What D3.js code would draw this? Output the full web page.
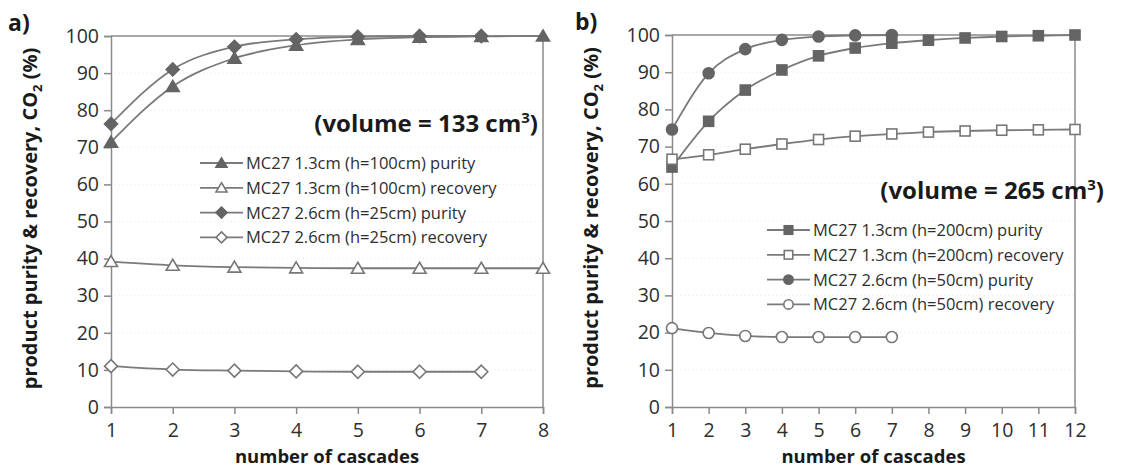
<!DOCTYPE html>
<html><head><meta charset="utf-8">
<script src="https://cdn.jsdelivr.net/npm/d3@7/dist/d3.min.js"></script>
<style>
body{margin:0;background:#fff;}
svg{display:block;font-family:"Open Sans",sans-serif;}
</style></head><body>
<svg id="chart" width="1129" height="470"></svg>
<script>
// ---------- DATA ----------
const yTicks = [0,10,20,30,40,50,60,70,80,90,100];
const cascadesA = [1,2,3,4,5,6,7,8];
const cascadesB = [1,2,3,4,5,6,7,8,9,10,11,12];

const a_p13_purity   = [71.4, 86.4, 94.0, 97.5, 99.1, 99.7, 99.9, 100];
const a_p13_recovery = [39.2, 38.2, 37.7, 37.5, 37.4, 37.4, 37.4, 37.4];
const a_p26_purity   = [76.3, 91.0, 97.1, 99.1, 99.8, 100, 100];
const a_p26_recovery = [11.0, 10.1, 9.8, 9.6, 9.5, 9.5, 9.5];

const b_p13_purity   = [64.5, 76.8, 85.2, 90.6, 94.4, 96.5, 97.8, 98.6, 99.2, 99.6, 99.8, 100];
const b_p13_recovery = [66.6, 67.8, 69.3, 70.7, 71.9, 72.8, 73.4, 73.9, 74.2, 74.4, 74.5, 74.6];
const b_p26_purity   = [74.6, 89.7, 96.2, 98.7, 99.6, 99.9, 100];
const b_p26_recovery = [21.2, 19.9, 19.1, 18.8, 18.8, 18.8, 18.8];

const labelsA = ["MC27 1.3cm (h=100cm) purity","MC27 1.3cm (h=100cm) recovery","MC27 2.6cm (h=25cm) purity","MC27 2.6cm (h=25cm) recovery"];
const labelsB = ["MC27 1.3cm (h=200cm) purity","MC27 1.3cm (h=200cm) recovery","MC27 2.6cm (h=50cm) purity","MC27 2.6cm (h=50cm) recovery"];

// ---------- DRAW ----------
const svg = d3.select("#chart");
const axisCol = "#8a8a8a", lineCol = "#7a7a7a", fillCol = "#646464", textCol = "#2e2e2e";

function marker(g, type, x, y, filled, s){
  s = s || 1;
  const fill = filled ? fillCol : "#fff";
  const stroke = filled ? fillCol : "#777";
  let el;
  if(type==="triangle"){
    el = g.append("path").attr("d", `M${x},${y-6*s} L${x+6.5*s},${y+5*s} L${x-6.5*s},${y+5*s} Z`);
  } else if(type==="diamond"){
    el = g.append("path").attr("d", `M${x},${y-6.5*s} L${x+6.5*s},${y} L${x},${y+6.5*s} L${x-6.5*s},${y} Z`);
  } else if(type==="square"){
    el = g.append("rect").attr("x", x-5*s).attr("y", y-5*s).attr("width",10*s).attr("height",10*s);
  } else {
    el = g.append("circle").attr("cx", x).attr("cy", y).attr("r", 5.5*s);
  }
  el.attr("fill", fill).attr("stroke", stroke).attr("stroke-width", 1.6);
}

function panel(opt){
  const {left,right,top,bottom,xs,series,labels,tag,tagX,tagY,vol,volX,volY,legX,legY,ylabX} = opt;
  const g = svg.append("g");
  const x = d3.scaleLinear().domain([xs[0], xs[xs.length-1]]).range([left,right]);
  const y = d3.scaleLinear().domain([0,100]).range([bottom,top]);

  // faint dotted gridlines
  g.append("g").selectAll("line").data(yTicks.slice(1,-1)).join("line")
    .attr("x1",left).attr("x2",right).attr("y1",d=>y(d)).attr("y2",d=>y(d))
    .attr("stroke","#e8e8e8").attr("stroke-dasharray","1,3");

  // frame top/right
  g.append("line").attr("x1",left).attr("x2",right).attr("y1",top).attr("y2",top).attr("stroke",axisCol).attr("stroke-width",1.5);
  g.append("line").attr("x1",right).attr("x2",right).attr("y1",top).attr("y2",bottom).attr("stroke",axisCol).attr("stroke-width",1.5);

  // y axis
  const ya = g.append("g").attr("transform",`translate(${left},0)`)
    .call(d3.axisLeft(y).tickValues(yTicks).tickSize(7).tickPadding(5));
  // x axis
  const xa = g.append("g").attr("transform",`translate(0,${bottom})`)
    .call(d3.axisBottom(x).tickValues(xs).tickFormat(d3.format("d")).tickSize(7).tickPadding(9));
  [ya,xa].forEach(a=>{
    a.select(".domain").attr("stroke",axisCol).attr("stroke-width",1.5);
    a.selectAll(".tick line").attr("stroke",axisCol).attr("stroke-width",1.5);
    a.selectAll("text").attr("fill",textCol).attr("font-size",19.5).attr("font-family","Open Sans");
  });
  // series
  const line = d3.line().x((d,i)=>x(xs[i])).y(d=>y(d)).curve(d3.curveMonotoneX);
  series.forEach(s=>{
    g.append("path").attr("d", line(s.values)).attr("fill","none").attr("stroke",lineCol).attr("stroke-width",1.8);
  });
  series.forEach(s=>{
    s.values.forEach((v,i)=> marker(g, s.type, x(xs[i]), y(v), s.filled));
  });

  // legend
  series.forEach((s,i)=>{
    const cy = legY + i*24.8;
    g.append("line").attr("x1",legX).attr("x2",legX+43).attr("y1",cy).attr("y2",cy).attr("stroke",lineCol).attr("stroke-width",1.8);
    marker(g, s.type, legX+21.5, cy, s.filled, 0.85);
    g.append("text").attr("x",legX+46).attr("y",cy+6).attr("font-size",16.5).attr("fill",textCol).text(labels[i]);
  });

  // volume annotation
  const vt = g.append("text").attr("x",volX).attr("y",volY).attr("text-anchor","end")
    .attr("font-size",24).attr("font-weight","bold").attr("fill","#1a1a1a");
  vt.append("tspan").text(vol[0]);
  vt.append("tspan").attr("font-size",15).attr("dy",-9).text(vol[1]);
  vt.append("tspan").attr("dy",9).text(vol[2]);

  // panel tag
  g.append("text").attr("x",tagX).attr("y",tagY).attr("font-size",23).attr("font-weight","bold").attr("fill","#1a1a1a").text(tag);

  // axis titles
  g.append("text").attr("x",(left+right)/2).attr("y",463).attr("text-anchor","middle")
    .attr("font-size",18.5).attr("font-weight","bold").attr("fill","#1a1a1a").text("number of cascades");
  const yl = g.append("text").attr("transform",`translate(${ylabX},${(top+bottom)/2 - 3}) rotate(-90)`)
    .attr("text-anchor","middle").attr("font-size",20).attr("font-weight","bold").attr("fill","#1a1a1a");
  yl.append("tspan").text("product purity & recovery, CO");
  yl.append("tspan").attr("font-size",13).attr("dy",5).text("2");
  yl.append("tspan").attr("dy",-5).text(" (%)");
}

panel({
  left:111, right:543, top:36, bottom:407, xs:cascadesA,
  series:[
    {values:a_p13_purity, type:"triangle", filled:true},
    {values:a_p13_recovery, type:"triangle", filled:false},
    {values:a_p26_purity, type:"diamond", filled:true},
    {values:a_p26_recovery, type:"diamond", filled:false}
  ],
  labels:labelsA, tag:"a)", tagX:8, tagY:31,
  vol:["(volume = 133 cm","3",")"], volX:538, volY:132, legX:200, legY:163, ylabX:37
});

panel({
  left:672, right:1075, top:35, bottom:407, xs:cascadesB,
  series:[
    {values:b_p13_purity, type:"square", filled:true},
    {values:b_p13_recovery, type:"square", filled:false},
    {values:b_p26_purity, type:"circle", filled:true},
    {values:b_p26_recovery, type:"circle", filled:false}
  ],
  labels:labelsB, tag:"b)", tagX:575, tagY:30,
  vol:["(volume = 265 cm","3",")"], volX:1104, volY:199, legX:767, legY:230, ylabX:598
});
</script>
</body></html>
